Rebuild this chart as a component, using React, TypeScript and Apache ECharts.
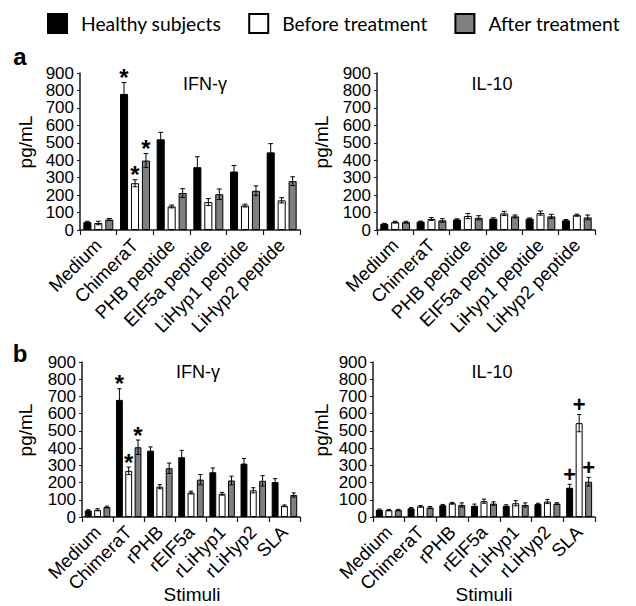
import React, { useEffect, useRef } from "react";
import * as echarts from "echarts";

// ---------- data ----------
const seriesNames = ["Healthy subjects", "Before treatment", "After treatment"];

const catsA = ["Medium", "ChimeraT", "PHB peptide", "EIF5a peptide", "LiHyp1 peptide", "LiHyp2 peptide"];
const catsB = ["Medium", "ChimeraT", "rPHB", "rEIF5a", "rLiHyp1", "rLiHyp2", "SLA"];

// Panel a, IFN-γ
const aIfnHealthy = [45, 780, 520, 360, 335, 445];
const aIfnHealthyErr = [5, 65, 40, 60, 35, 50];
const aIfnBefore = [40, 268, 135, 160, 140, 170];
const aIfnBeforeErr = [10, 20, 8, 20, 8, 15];
const aIfnAfter = [60, 398, 212, 205, 225, 280];
const aIfnAfterErr = [6, 40, 25, 30, 28, 25];
const aIfnMarks = [
  ["", "*", "", "", "", ""],
  ["", "*", "", "", "", ""],
  ["", "*", "", "", "", ""],
];

// Panel a, IL-10
const aIlHealthy = [35, 48, 60, 65, 65, 55];
const aIlHealthyErr = [3, 3, 4, 5, 4, 5];
const aIlBefore = [45, 63, 80, 95, 97, 85];
const aIlBeforeErr = [5, 8, 15, 12, 12, 6];
const aIlAfter = [45, 55, 70, 78, 78, 72];
const aIlAfterErr = [5, 10, 12, 8, 12, 14];

// Panel b, IFN-γ
const bIfnHealthy = [38, 680, 385, 347, 260, 310, 203];
const bIfnHealthyErr = [4, 65, 22, 40, 25, 30, 20];
const bIfnBefore = [42, 268, 176, 142, 135, 155, 65];
const bIfnBeforeErr = [6, 22, 12, 8, 8, 15, 5];
const bIfnAfter = [58, 405, 283, 217, 212, 210, 128];
const bIfnAfterErr = [5, 42, 30, 30, 25, 30, 12];
const bIfnMarks = [
  ["", "*", "", "", "", "", ""],
  ["", "*", "", "", "", "", ""],
  ["", "*", "", "", "", "", ""],
];

// Panel b, IL-10
const bIlHealthy = [42, 50, 68, 65, 65, 75, 170];
const bIlHealthyErr = [4, 5, 5, 10, 6, 5, 20];
const bIlBefore = [40, 62, 80, 92, 80, 90, 545];
const bIlBeforeErr = [4, 5, 5, 12, 15, 12, 50];
const bIlAfter = [40, 55, 70, 78, 70, 78, 205];
const bIlAfterErr = [4, 6, 12, 10, 12, 5, 25];
const bIlMarks = [
  ["", "", "", "", "", "", "+"],
  ["", "", "", "", "", "", "+"],
  ["", "", "", "", "", "", "+"],
];

const yMin = 0;
const yMax = 900;
const yStep = 100;

// ---------- styles / layout ----------
const FONT = "'Liberation Sans', Arial, sans-serif";
const fills = ["#000000", "#ffffff", "#808080"];
const BW = 0.22; // bar width as fraction of band
const GAP = 0.36; // gap as fraction of bar width

const panels = [
  {
    cats: catsA,
    vals: [aIfnHealthy, aIfnBefore, aIfnAfter],
    errs: [aIfnHealthyErr, aIfnBeforeErr, aIfnAfterErr],
    marks: aIfnMarks,
    grid: { left: 80, top: 73, width: 220, height: 157 },
  },
  {
    cats: catsA,
    vals: [aIlHealthy, aIlBefore, aIlAfter],
    errs: [aIlHealthyErr, aIlBeforeErr, aIlAfterErr],
    marks: null as string[][] | null,
    grid: { left: 377, top: 73, width: 218, height: 157 },
  },
  {
    cats: catsB,
    vals: [bIfnHealthy, bIfnBefore, bIfnAfter],
    errs: [bIfnHealthyErr, bIfnBeforeErr, bIfnAfterErr],
    marks: bIfnMarks,
    grid: { left: 82, top: 362, width: 218, height: 155 },
  },
  {
    cats: catsB,
    vals: [bIlHealthy, bIlBefore, bIlAfter],
    errs: [bIlHealthyErr, bIlBeforeErr, bIlAfterErr],
    marks: bIlMarks,
    grid: { left: 373, top: 362, width: 222, height: 155 },
  },
];

function buildOption() {
  const grid: any[] = [];
  const xAxis: any[] = [];
  const yAxis: any[] = [];
  const series: any[] = [];

  panels.forEach((p, pi) => {
    grid.push({ ...p.grid, containLabel: false });
    xAxis.push({
      type: "category",
      gridIndex: pi,
      data: p.cats,
      boundaryGap: true,
      axisLine: { show: true, lineStyle: { color: "#1a1a1a", width: 1.5 } },
      axisTick: { show: true, length: 5, lineStyle: { color: "#1a1a1a", width: 1.2 } },
      axisLabel: {
        interval: 0,
        rotate: 45,
        margin: 12,
        color: "#000",
        fontFamily: FONT,
        fontSize: 18.5,
      },
      splitLine: { show: false },
    });
    yAxis.push({
      type: "value",
      gridIndex: pi,
      min: yMin,
      max: yMax,
      interval: yStep,
      axisLine: { show: true, lineStyle: { color: "#1a1a1a", width: 1.5 } },
      axisTick: { show: true, length: 3, lineStyle: { color: "#1a1a1a" } },
      axisLabel: { color: "#000", fontFamily: FONT, fontSize: 17, margin: 6 },
      splitLine: { show: false },
    });

    p.vals.forEach((vals, si) => {
      series.push({
        type: "bar",
        name: seriesNames[si],
        xAxisIndex: pi,
        yAxisIndex: pi,
        data: vals,
        barWidth: `${BW * 100}%`,
        barGap: `${GAP * 100}%`,
        itemStyle: { color: fills[si], borderColor: "#000", borderWidth: 1 },
        z: 2,
      });
    });

    p.vals.forEach((vals, si) => {
      const errs = p.errs[si];
      const marks = p.marks ? p.marks[si] : null;
      series.push({
        type: "custom",
        name: `err-${pi}-${si}`,
        xAxisIndex: pi,
        yAxisIndex: pi,
        z: 5,
        encode: { x: 0, y: 1 },
        data: vals.map((v, i) => [i, v, errs[i]]),
        renderItem: (params: any, api: any) => {
          const idx = api.value(0);
          const v = api.value(1);
          const e = api.value(2);
          const mark = marks ? marks[idx] : "";
          const band = api.size([1, 0])[0];
          const bw = band * BW;
          const gap = bw * GAP;
          const total = 3 * bw + 2 * gap;
          const center = api.coord([idx, 0])[0];
          const cx = center - total / 2 + si * (bw + gap) + bw / 2;
          const yTop = api.coord([idx, v + e])[1];
          const yBot = api.coord([idx, Math.max(0, v - e)])[1];
          const cap = Math.max(4, bw * 0.6) / 2;
          const stroke = { stroke: "#000", lineWidth: 1 };
          const children: any[] = [
            { type: "line", shape: { x1: cx, y1: yTop, x2: cx, y2: yBot }, style: stroke },
            { type: "line", shape: { x1: cx - cap, y1: yTop, x2: cx + cap, y2: yTop }, style: stroke },
            { type: "line", shape: { x1: cx - cap, y1: yBot, x2: cx + cap, y2: yBot }, style: stroke },
          ];
          if (mark) {
            const isStar = mark === "*";
            children.push({
              type: "text",
              x: cx,
              y: isStar ? yTop - 5 : yTop - 10,
              style: {
                text: mark,
                align: "center",
                verticalAlign: "middle",
                fontFamily: FONT,
                fontSize: isStar ? 24 : 22,
                fontWeight: "bold",
                fill: "#000",
              },
            });
          }
          return { type: "group", children };
        },
      });
    });
  });

  const txt = (text: string, x: number, y: number, size: number, extra: any = {}) => ({
    type: "text",
    x,
    y,
    ...extra,
    style: {
      text,
      align: "center",
      verticalAlign: "middle",
      fontFamily: FONT,
      fontSize: size,
      fill: "#000",
      ...(extra.style || {}),
    },
  });

  const graphic = [
    txt("a", 20, 56, 24, { style: { fontWeight: "bold" } }),
    txt("b", 20, 353, 24, { style: { fontWeight: "bold" } }),
    txt("IFN-γ", 205, 84, 18),
    txt("IL-10", 492, 84, 18),
    txt("IFN-γ", 198, 372, 18),
    txt("IL-10", 492, 372, 18),
    txt("pg/mL", 25, 142, 19, { rotation: Math.PI / 2 }),
    txt("pg/mL", 321, 142, 19, { rotation: Math.PI / 2 }),
    txt("pg/mL", 25, 430, 19, { rotation: Math.PI / 2 }),
    txt("pg/mL", 321, 430, 19, { rotation: Math.PI / 2 }),
    txt("Stimuli", 192, 594, 19),
    txt("Stimuli", 484, 594, 19),
  ];

  return {
    animation: false,
    backgroundColor: "#ffffff",
    legend: {
      data: seriesNames,
      left: 47,
      top: 13,
      width: 620,
      padding: 0,
      icon: "rect",
      itemWidth: 19,
      itemHeight: 19,
      itemGap: 27,
      selectedMode: false,
      textStyle: {
        fontFamily: "Lato, 'Open Sans', sans-serif",
        fontSize: 19.3,
        color: "#000",
        padding: [0, 0, 0, 9],
      },
    },
    grid,
    xAxis,
    yAxis,
    series,
    graphic,
  };
}

export default function App() {
  const ref = useRef<HTMLDivElement | null>(null);
  useEffect(() => {
    if (!ref.current) return;
    const chart = echarts.init(ref.current, undefined, { renderer: "svg" });
    chart.setOption(buildOption() as any);
    return () => chart.dispose();
  }, []);
  return (
    <div
      ref={ref}
      style={{ position: "absolute", left: 0, top: 0, width: 636, height: 606, background: "#fff" }}
    />
  );
}
